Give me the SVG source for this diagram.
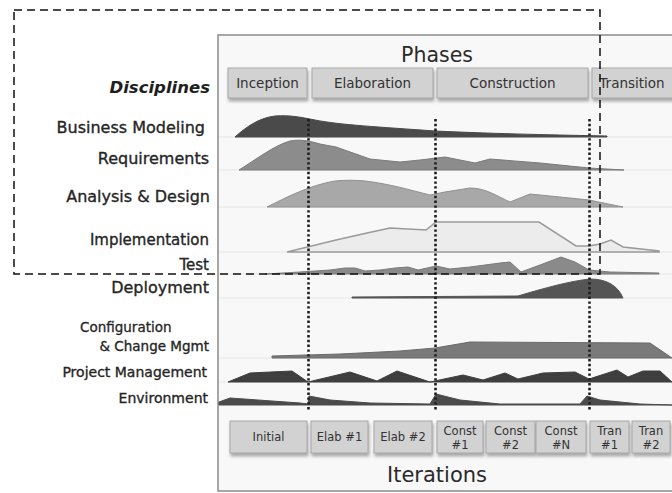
<svg xmlns="http://www.w3.org/2000/svg" width="672" height="493" viewBox="0 0 672 493">
<defs>
<filter id="sh" x="-10%" y="-20%" width="130%" height="160%">
<feDropShadow dx="1" dy="3" stdDeviation="1.8" flood-color="#777" flood-opacity="0.6"/>
</filter>
</defs>
<style>
text{font-family:"DejaVu Sans","Liberation Sans",sans-serif;}
.lbl{fill:#262626;stroke:#262626;stroke-width:0.35;text-anchor:end;}
.box{fill:#d2d2d2;stroke:#a8a8a8;stroke-width:1;filter:url(#sh);}
.bt{fill:#333;font-size:13.5px;text-anchor:middle;}
.it{fill:#333;font-size:11.5px;text-anchor:middle;}
.sep{stroke:#e6e6e6;stroke-width:1;}
.ms{stroke:#1e1e1e;stroke-width:2.6;stroke-dasharray:2.4 2.4;fill:none;}
</style>
<rect width="672" height="493" fill="#fff"/>
<!-- frame -->
<rect x="218" y="35" width="470" height="456" fill="#f8f8f8" stroke="#8a8a8a" stroke-width="1.5"/>
<text x="437" y="62" font-size="20.5" fill="#2a2a2a" text-anchor="middle">Phases</text>
<text x="437" y="482" font-size="21" fill="#2a2a2a" text-anchor="middle">Iterations</text>
<text x="210" y="93" font-size="16.5" font-weight="bold" font-style="italic" fill="#1e1e1e" text-anchor="end">Disciplines</text>

<g id="separators">
<line class="sep" x1="219" y1="137" x2="672" y2="137"/>
<line class="sep" x1="219" y1="170" x2="672" y2="170"/>
<line class="sep" x1="219" y1="207" x2="672" y2="207"/>
<line class="sep" x1="219" y1="252" x2="672" y2="252"/>
<line class="sep" x1="219" y1="274" x2="672" y2="274"/>
<line class="sep" x1="219" y1="298" x2="672" y2="298"/>
<line class="sep" x1="219" y1="358" x2="672" y2="358"/>
<line class="sep" x1="219" y1="382" x2="672" y2="382"/>
</g>

<g id="phase-inception"><rect class="box" x="228" y="68" width="79" height="30"/><text class="bt" x="267.5" y="88">Inception</text></g>
<g id="phase-elaboration"><rect class="box" x="312" y="68" width="121" height="30"/><text class="bt" x="372.5" y="88">Elaboration</text></g>
<g id="phase-construction"><rect class="box" x="437" y="68" width="151" height="30"/><text class="bt" x="512.5" y="88">Construction</text></g>
<g id="phase-transition"><rect class="box" x="592" y="68" width="90" height="30"/><text class="bt" x="632" y="88">Transition</text></g>

<g id="business-modeling">
<text class="lbl" x="205" y="133" font-size="16">Business Modeling</text>
<path d="M235,137 C245,128 258,118 275,116 C290,115 300,117 315,120 C340,125 380,127 435,131 C500,134 560,135 607,136 L607,137 Z" fill="#4a4a4a" stroke="#4a4a4a" stroke-width="1"/>
</g>
<g id="requirements">
<text class="lbl" x="209" y="164" font-size="16">Requirements</text>
<path d="M239,170 C255,160 275,145 290,141 C300,139 310,141 320,144 L336,147 L370,159 L400,162 L420,160 L445,157 L460,160 L475,163 L490,159 L540,163 L589,168 L624,170 Z" fill="#8c8c8c" stroke="#7a7a7a" stroke-width="1"/>
</g>
<g id="analysis-design">
<text class="lbl" x="210" y="202" font-size="16">Analysis &amp; Design</text>
<path d="M267,207 C285,198 310,185 335,181 C345,180 355,180 365,181 C390,184 410,190 430,195 L445,192 L470,188 C485,188 495,195 510,202 L530,194 L560,197 L589,200 L623,207 Z" fill="#a8a8a8" stroke="#909090" stroke-width="1"/>
</g>
<g id="implementation">
<text class="lbl" x="209" y="245" font-size="15">Implementation</text>
<path d="M287,252 L336,240 L367,233 L390,228 L426,230 L436,222 L539,222 L576,246 L589,246 L600,244 L611,240 L623,247 L659,251 L659,252 Z" fill="#ececec" stroke="#9a9a9a" stroke-width="1.5"/>
</g>
<g id="test">
<text class="lbl" x="209" y="270" font-size="15">Test</text>
<path d="M265,274 L300,272 L330,270 L345,268 L355,268 L365,271 L380,270 L395,268 L408,267 L418,270 L436,266 L450,269 L470,267 L500,263 L510,262 L521,272 L540,265 L561,257 L575,262 L589,270 L610,272 L659,273 L659,274 Z" fill="#8a8a8a" stroke="#7a7a7a" stroke-width="1"/>
</g>
<g id="deployment">
<text class="lbl" x="209" y="293" font-size="16">Deployment</text>
<path d="M352,298 L352,297 L518,296 C545,288 570,281 590,279 C607,279 618,286 623,298 Z" fill="#555" stroke="#555" stroke-width="1"/>
</g>
<g id="configuration">
<text x="80" y="332" font-size="13.5" fill="#262626" stroke="#262626" stroke-width="0.3">Configuration</text>
<text class="lbl" x="209" y="351" font-size="13.5">&amp; Change Mgmt</text>
<path d="M272,358 L272,356 L340,354 L400,351 L435,348 L470,342 L650,343 L672,358 Z" fill="#7a7a7a" stroke="#6a6a6a" stroke-width="1"/>
</g>
<g id="project-management">
<text class="lbl" x="207" y="377" font-size="14">Project Management</text>
<path d="M228,382 L250,373 L292,371 L308,382 L350,372 L377,381 L397,371 L430,382 L463,375 L483,380 L505,373 L518,379 L543,373 L575,372 L589,379 L617,370 L628,377 L643,371 L660,371 L672,382 Z" fill="#3e3e3e" stroke="#3e3e3e" stroke-width="1"/>
</g>
<g id="environment">
<text class="lbl" x="208" y="403" font-size="14">Environment</text>
<path d="M219,405 L219,402 L230,398 L300,403 L308,404 L309,396 L330,400 L370,403 L430,404 L436,394 L460,400 L500,404 L580,404 L587,396 L600,400 L640,404 L672,405 Z" fill="#4a4a4a" stroke="#4a4a4a" stroke-width="1"/>
</g>

<g id="iter-initial"><rect class="box" x="230" y="421" width="77" height="32"/><text class="it" x="268.5" y="441">Initial</text></g>
<g id="iter-elab1"><rect class="box" x="311" y="421" width="57" height="32"/><text class="it" x="339.5" y="441">Elab #1</text></g>
<g id="iter-elab2"><rect class="box" x="374" y="421" width="58" height="32"/><text class="it" x="403" y="441">Elab #2</text></g>
<g id="iter-const1"><rect class="box" x="437" y="421" width="46" height="32"/><text class="it" x="460" y="435">Const</text><text class="it" x="460" y="449">#1</text></g>
<g id="iter-const2"><rect class="box" x="486" y="421" width="49" height="32"/><text class="it" x="510.5" y="435">Const</text><text class="it" x="510.5" y="449">#2</text></g>
<g id="iter-constN"><rect class="box" x="536" y="421" width="50" height="32"/><text class="it" x="561" y="435">Const</text><text class="it" x="561" y="449">#N</text></g>
<g id="iter-tran1"><rect class="box" x="590" y="421" width="39" height="32"/><text class="it" x="609.5" y="435">Tran</text><text class="it" x="609.5" y="449">#1</text></g>
<g id="iter-tran2"><rect class="box" x="632" y="421" width="38" height="32"/><text class="it" x="651" y="435">Tran</text><text class="it" x="651" y="449">#2</text></g>

<g id="connectors">
<line class="ms" x1="308.5" y1="119" x2="308.5" y2="411"/>
<line class="ms" x1="435.5" y1="119" x2="435.5" y2="411"/>
<line class="ms" x1="589.5" y1="119" x2="589.5" y2="411"/>
</g>

<rect id="focus" x="14" y="10" width="586" height="264" fill="none" stroke="#111" stroke-width="1.5" stroke-dasharray="8 5"/>
</svg>
